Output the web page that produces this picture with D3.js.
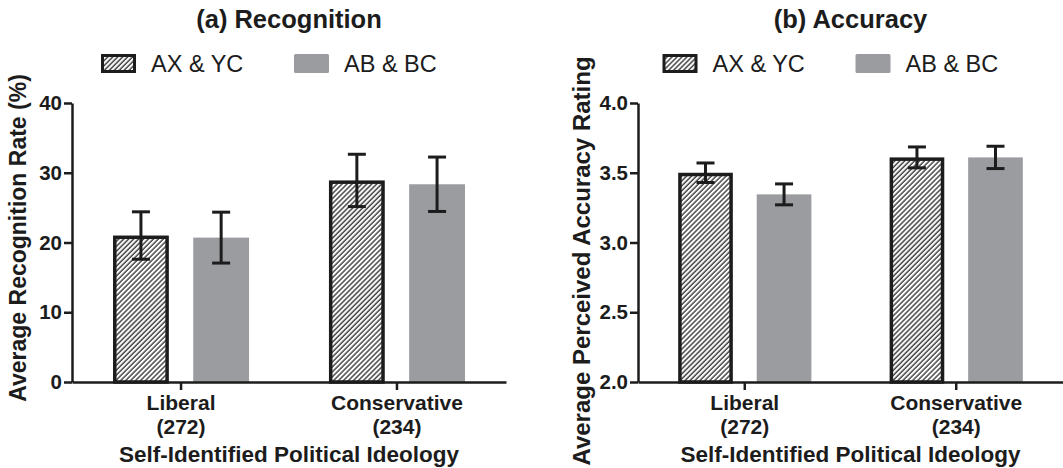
<!DOCTYPE html>
<html>
<head>
<meta charset="utf-8">
<script src="https://cdn.jsdelivr.net/npm/d3@7"></script>
<style>
    body { margin: 0; background: #fff; }
    svg { display: block; font-family: "Liberation Sans", Arial, sans-serif; }
</style>
</head>
<body>
<svg id="chart" width="1063" height="468"></svg>
<script>
const categories = ["Liberal", "Conservative"];
const sampleSizes = ["(272)", "(234)"];
const seriesNames = ["AX & YC", "AB & BC"];

const recognitionAXYC = [21.0, 28.9];
const recognitionABBC = [20.7, 28.35];
const recognitionErrAXYC = [3.4, 3.75];
const recognitionErrABBC = [3.65, 3.9];
const recognitionTicks = [0, 10, 20, 30, 40];

const accuracyAXYC = [3.50, 3.61];
const accuracyABBC = [3.345, 3.61];
const accuracyErrAXYC = [0.07, 0.075];
const accuracyErrABBC = [0.075, 0.08];
const accuracyTicks = [2.0, 2.5, 3.0, 3.5, 4.0];

const ink = "#1c1c1c";
const grayFill = "#9b9ca0";

const svg = d3.select("#chart");

// hatch pattern for the AX & YC bars
svg.append("defs").append("pattern")
    .attr("id", "hatch")
    .attr("patternUnits", "userSpaceOnUse")
    .attr("width", 3.5)
    .attr("height", 3.5)
    .attr("patternTransform", "rotate(45)")
    .call(p => p.append("rect").attr("width", 3.5).attr("height", 3.5).attr("fill", "#fff"))
    .append("line")
    .attr("x1", 1).attr("y1", 0).attr("x2", 1).attr("y2", 3.5)
    .attr("stroke", "#3a3a3a")
    .attr("stroke-width", 1.4);

function drawPanel(options) {
    const xRange = options.xRange;
    const center = (xRange[0] + xRange[1]) / 2;
    const g = svg.append("g");

    const x0 = d3.scaleBand().domain(categories).range(xRange)
        .paddingInner(0.37).paddingOuter(0.19);
    const x1 = d3.scaleBand().domain(seriesNames).range([0, x0.bandwidth()])
        .paddingInner(0.304);
    const y = d3.scaleLinear().domain(options.domain).range([382, 103]);

    const rows = [];
    categories.forEach(function (c, i) {
        rows.push({cat: c, series: seriesNames[0], value: options.a[i], err: options.aErr[i]});
        rows.push({cat: c, series: seriesNames[1], value: options.b[i], err: options.bErr[i]});
    });

    // bars
    g.selectAll("rect.bar")
        .data(rows)
        .enter()
        .append("rect")
        .attr("class", "bar")
        .attr("x", d => x0(d.cat) + x1(d.series) + (d.series === seriesNames[0] ? 1.75 : 0))
        .attr("width", d => x1.bandwidth() - (d.series === seriesNames[0] ? 3.5 : 0))
        .attr("y", d => y(d.value) + (d.series === seriesNames[0] ? 1.75 : 0))
        .attr("height", d => y(options.domain[0]) - y(d.value) - (d.series === seriesNames[0] ? 1.75 : 0))
        .attr("fill", d => d.series === seriesNames[0] ? "url(#hatch)" : grayFill)
        .attr("stroke", d => d.series === seriesNames[0] ? ink : "none")
        .attr("stroke-width", 3.5);

    // error bars
    const eb = g.selectAll("g.err")
        .data(rows)
        .enter()
        .append("g")
        .attr("class", "err")
        .attr("stroke", ink)
        .attr("stroke-width", 3);
    eb.append("line")
        .attr("x1", d => x0(d.cat) + x1(d.series) + x1.bandwidth() / 2)
        .attr("x2", d => x0(d.cat) + x1(d.series) + x1.bandwidth() / 2)
        .attr("y1", d => y(d.value + d.err))
        .attr("y2", d => y(d.value - d.err));
    [1, -1].forEach(function (s) {
        eb.append("line")
            .attr("x1", d => x0(d.cat) + x1(d.series) + x1.bandwidth() / 2 - 9)
            .attr("x2", d => x0(d.cat) + x1(d.series) + x1.bandwidth() / 2 + 9)
            .attr("y1", d => y(d.value + s * d.err))
            .attr("y2", d => y(d.value + s * d.err));
    });

    // y axis
    const yAxis = g.append("g")
        .attr("transform", `translate(${xRange[0]}, 0)`)
        .call(d3.axisLeft(y).tickValues(options.ticks).tickFormat(options.format)
            .tickSize(8).tickSizeOuter(0).tickPadding(2));
    yAxis.selectAll("path, line").attr("stroke", ink).attr("stroke-width", 2.5);
    yAxis.selectAll("text")
        .attr("fill", ink)
        .style("font-size", "20.5px")
        .style("font-weight", "bold")
        .style("font-family", "Liberation Sans, Arial, sans-serif");

    // x axis
    const xAxis = g.append("g")
        .attr("transform", `translate(0, 382)`)
        .call(d3.axisBottom(x0).tickSize(8).tickSizeOuter(0).tickFormat(""));
    xAxis.selectAll("path, line").attr("stroke", ink).attr("stroke-width", 2.5);

    categories.forEach(function (c, i) {
        const cx = x0(c) + x0.bandwidth() / 2;
        g.append("text")
            .attr("x", cx).attr("y", 410)
            .attr("text-anchor", "middle")
            .attr("fill", ink)
            .style("font-size", "21px")
            .style("font-weight", "bold")
            .text(c);
        g.append("text")
            .attr("x", cx).attr("y", 434)
            .attr("text-anchor", "middle")
            .attr("fill", ink)
            .style("font-size", "21px")
            .style("font-weight", "bold")
            .text(sampleSizes[i]);
    });

    // x axis title
    g.append("text")
        .attr("x", center).attr("y", 462)
        .attr("text-anchor", "middle")
        .attr("fill", ink)
        .style("font-size", "22.5px")
        .style("font-weight", "bold")
        .text("Self-Identified Political Ideology");

    // y axis title
    g.append("text")
        .attr("transform", `translate(${options.yTitleX}, ${options.yTitleY}) rotate(-90)`)
        .attr("text-anchor", "middle")
        .attr("fill", ink)
        .style("font-size", options.yTitleSize)
        .style("font-weight", "bold")
        .text(options.yLabel);

    // title
    g.append("text")
        .attr("x", center).attr("y", 28)
        .attr("text-anchor", "middle")
        .attr("fill", ink)
        .style("font-size", "25.5px")
        .style("font-weight", "bold")
        .text(options.title);

    // legend
    const legendX = [center - 188, center + 5];
    seriesNames.forEach(function (s, i) {
        const lx = legendX[i];
        if (i === 0) {
            g.append("rect")
                .attr("x", lx + 1.5).attr("y", 55.5)
                .attr("width", 32).attr("height", 16)
                .attr("fill", "url(#hatch)")
                .attr("stroke", ink).attr("stroke-width", 3);
        } else {
            g.append("rect")
                .attr("x", lx).attr("y", 54)
                .attr("width", 35).attr("height", 19)
                .attr("rx", 1.5)
                .attr("fill", grayFill);
        }
        g.append("text")
            .attr("x", lx + 50).attr("y", 72)
            .attr("fill", ink)
            .style("font-size", "23.5px")
            .text(s);
    });
}

drawPanel({
    xRange: [72, 506],
    domain: [0, 40],
    ticks: recognitionTicks,
    format: d3.format("d"),
    a: recognitionAXYC, b: recognitionABBC,
    aErr: recognitionErrAXYC, bErr: recognitionErrABBC,
    title: "(a) Recognition",
    yLabel: "Average Recognition Rate (%)",
    yTitleX: 26, yTitleY: 238, yTitleSize: "23px"
});

drawPanel({
    xRange: [638, 1063],
    domain: [2, 4],
    ticks: accuracyTicks,
    format: d3.format(".1f"),
    a: accuracyAXYC, b: accuracyABBC,
    aErr: accuracyErrAXYC, bErr: accuracyErrABBC,
    title: "(b) Accuracy",
    yLabel: "Average Perceived Accuracy Rating",
    yTitleX: 590, yTitleY: 261, yTitleSize: "24px"
});
</script>
</body>
</html>
